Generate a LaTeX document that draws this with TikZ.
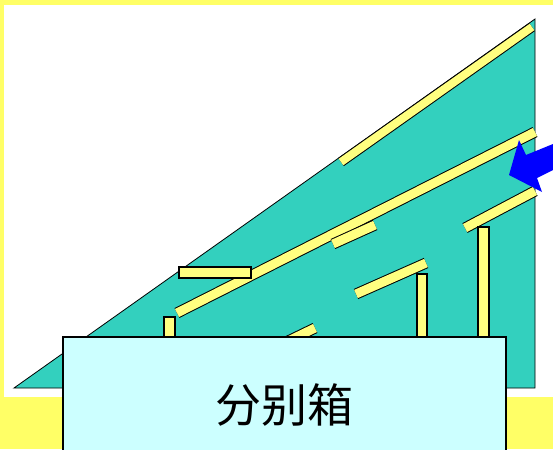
\documentclass[tikz,border=0pt]{standalone}
\usepackage{fontspec}
\usepackage{tikz}
\usetikzlibrary{positioning}
\newfontfamily\cjk{Noto Sans CJK SC}
\definecolor{BG-YELLOW}{RGB}{255,255,102}
\definecolor{BAR-YELLOW}{RGB}{255,255,128}
\definecolor{CHUTE-TEAL}{RGB}{51,208,190}
\definecolor{BOX-CYAN}{RGB}{204,255,255}

\tikzset{
	bar/.style={line width=#1, draw=BAR-YELLOW, preaction={draw=black, line width=#1+2pt}},
	bar/.default=9pt,
	post/.style={draw=black, line width=1.2pt, fill=BAR-YELLOW}
}

\begin{document}
\begin{tikzpicture}[x=1pt,y=-1pt,every path/.style={>=latex}]
			\useasboundingbox (0,0) rectangle (553,449);
			% draw background
			\fill[BG-YELLOW] (0,0) rectangle (553,449);
			\fill[white] (3.5,5) rectangle (553,397);
		
			% draw chute
			\filldraw[fill=CHUTE-TEAL, draw=black, line width=0.8pt] (14,388) -- (535,19) -- (535,388) -- cycle;
			\draw[bar=8pt] (341,162) -- (532,27);
		
			% draw bars
			\draw[bar] (177,313) -- (535,132);
			\draw[bar] (333,244) -- (375,225);
			\draw[bar] (465,228) -- (535,191);
			\draw[bar] (356,294) -- (426,263);
			\draw[bar] (280,345) -- (315,328);
			\draw[post] (179,267) rectangle (251,278);
		
			% draw posts
			\draw[post] (164,317) rectangle (175,345);
			\draw[post] (417,274) rectangle (427,345);
			\draw[post] (478,227) rectangle (489,345);
		
			% draw arrow
			\fill[blue] (509,175) -- (519,140) -- (526,155) -- (553,144) -- (553,170) -- (537,178) -- (542,192) -- cycle;
		
			% draw box
			\node (box) at (284.5,405) [draw, line width=2.5pt, fill=BOX-CYAN, minimum width=443pt, minimum height=136pt] {\cjk\fontsize{46}{46}\selectfont 分别箱};
		\end{tikzpicture}
\end{document}
